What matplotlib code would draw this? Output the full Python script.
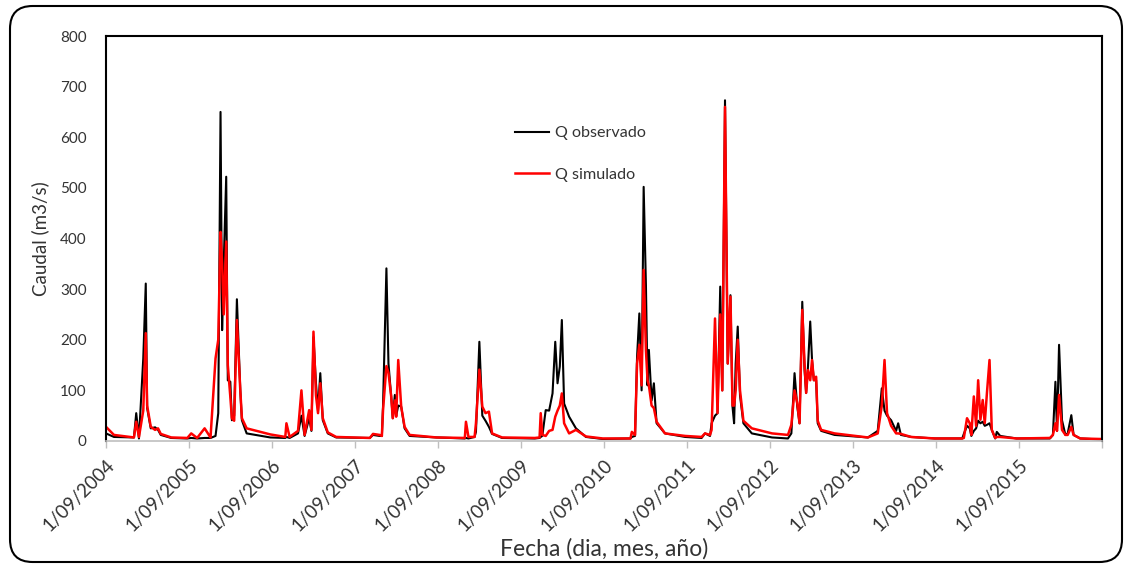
import matplotlib
matplotlib.use("Agg")
import matplotlib.pyplot as plt
from matplotlib.patches import FancyBboxPatch
import pandas as pd

######################################################################
# DATA

fechas = [
    "2004-09-01", "2004-10-06", "2005-01-02", "2005-01-12", "2005-01-24",
    "2005-02-12", "2005-02-23", "2005-03-01", "2005-03-17", "2005-04-05",
    "2005-04-18", "2005-04-30", "2005-06-15", "2005-08-25",
    "2005-09-11", "2005-10-07", "2005-11-09", "2005-12-05", "2005-12-27",
    "2006-01-08", "2006-01-18", "2006-01-25", "2006-02-01", "2006-02-12",
    "2006-02-19", "2006-03-02", "2006-03-09", "2006-03-19", "2006-03-31",
    "2006-04-15", "2006-04-22", "2006-05-13", "2006-08-25", "2006-10-30",
    "2006-11-04", "2006-11-18", "2006-12-25", "2007-01-09", "2007-01-23",
    "2007-02-12", "2007-02-22", "2007-03-03", "2007-03-14", "2007-03-23",
    "2007-04-02", "2007-04-13", "2007-05-05", "2007-06-11", "2007-11-06",
    "2007-11-20", "2007-12-19", "2007-12-29", "2008-01-03", "2008-01-18",
    "2008-01-27", "2008-02-08", "2008-02-15", "2008-02-24", "2008-03-01",
    "2008-03-10", "2008-03-23", "2008-04-07", "2008-04-29", "2008-08-25",
    "2008-12-28", "2009-01-02", "2009-01-13", "2009-02-09", "2009-02-15",
    "2009-03-02", "2009-03-15", "2009-03-29", "2009-04-13", "2009-04-27",
    "2009-06-10", "2009-11-01", "2009-11-22", "2009-11-27", "2009-12-04",
    "2009-12-19", "2010-01-03", "2010-01-18", "2010-01-30", "2010-02-09",
    "2010-02-19", "2010-02-28", "2010-03-10", "2010-04-01", "2010-05-01",
    "2010-06-14", "2010-08-27", "2010-12-27",
    "2011-01-02", "2011-01-16", "2011-01-25", "2011-02-04", "2011-02-14",
    "2011-02-23", "2011-03-05", "2011-03-12", "2011-03-18", "2011-03-30",
    "2011-04-09", "2011-04-21", "2011-05-28", "2011-08-25",
    "2011-11-05", "2011-11-20", "2011-12-12", "2011-12-19", "2012-01-03",
    "2012-01-14", "2012-01-26", "2012-02-04", "2012-02-16", "2012-02-28",
    "2012-03-11", "2012-03-20", "2012-03-27", "2012-04-03", "2012-04-12",
    "2012-04-22", "2012-05-07", "2012-06-13", "2012-09-10",
    "2012-11-19", "2012-12-04", "2012-12-18", "2012-12-30", "2013-01-09",
    "2013-01-21", "2013-01-31", "2013-02-07", "2013-02-15", "2013-02-25",
    "2013-03-05", "2013-03-13", "2013-03-23", "2013-03-30", "2013-04-14",
    "2013-06-12", "2013-11-06",
    "2013-12-19", "2014-01-06", "2014-01-18", "2014-01-29", "2014-02-16",
    "2014-03-10", "2014-03-19", "2014-03-31", "2014-05-15", "2014-08-27",
    "2014-12-26", "2015-01-02", "2015-01-16", "2015-01-28", "2015-02-04",
    "2015-02-15", "2015-02-25", "2015-03-06", "2015-03-16", "2015-03-26",
    "2015-04-04", "2015-04-14", "2015-04-25", "2015-05-05", "2015-05-20",
    "2015-05-27", "2015-06-11", "2015-08-22",
    "2016-01-16", "2016-01-29", "2016-02-09", "2016-02-16", "2016-02-25",
    "2016-03-09", "2016-03-24", "2016-04-03", "2016-04-19", "2016-04-29",
    "2016-05-28", "2016-08-22",
]

q_observado = [
    15, 8, 7, 55, 5, 163, 311, 65, 25, 27, 22, 12, 6, 5,
    6, 5, 6, 6, 10, 55, 650, 219, 350, 522, 120, 117, 41, 50, 280, 100,
    41, 15, 7, 6,
    8, 6, 15, 50, 10, 45, 20, 205, 114, 60, 134, 41, 15, 7, 6,
    12, 10, 10, 68, 341, 153, 88, 45, 91, 50, 70, 68, 25, 10, 7,
    5, 6, 5, 8, 18, 196, 50, 40, 28, 14, 6, 5, 6,
    8, 10, 61, 60, 94, 196, 114, 147, 239, 74, 48, 25, 8, 4, 5,
    8, 10, 166, 252, 100, 502, 308, 110, 180, 80, 114, 35, 15, 8,
    6, 15, 10, 35, 50, 55, 305, 100, 673, 153, 288, 68, 35, 153, 226,
    90, 35, 15, 7,
    5, 15, 134, 68, 35, 275, 140, 95, 146, 236, 160, 120, 120, 35, 20,
    12, 7,
    20, 104, 60, 50, 41, 20, 35, 12, 8, 5,
    5, 14, 30, 25, 10, 20, 25, 40, 35, 38, 30, 32, 35, 22, 5, 18, 10, 5,
    5, 12, 117, 20, 190, 41, 12, 15, 51, 12, 5, 3,
]

q_simulado = [
    28, 12, 7, 38, 8, 60, 213, 70, 28, 22, 25, 14, 7, 6,
    15, 6, 25, 7, 163, 200, 413, 350, 250, 394, 150, 88, 45, 40, 239, 100,
    45, 25, 13, 8,
    35, 8, 20, 100, 12, 61, 22, 216, 90, 55, 114, 45, 17, 8, 6,
    14, 12, 10, 60, 148, 135, 88, 45, 80, 48, 160, 68, 28, 12, 7,
    6, 38, 8, 8, 35, 141, 68, 55, 58, 15, 7, 6, 7,
    55, 12, 10, 20, 22, 48, 60, 70, 94, 35, 15, 22, 9, 5, 5,
    18, 12, 153, 190, 110, 338, 180, 120, 110, 70, 65, 38, 15, 10,
    8, 15, 12, 22, 242, 55, 250, 100, 660, 153, 285, 70, 70, 100, 200,
    100, 40, 25, 15,
    12, 32, 100, 75, 35, 259, 153, 95, 140, 120, 160, 120, 127, 40, 22,
    15, 7,
    15, 70, 160, 55, 30, 15, 15, 14, 8, 5,
    5, 6, 45, 35, 12, 88, 30, 120, 42, 81, 35, 97, 160, 22, 6, 8, 8, 5,
    6, 12, 35, 20, 91, 22, 12, 12, 28, 12, 5, 4,
]

anios_ticks = list(range(2004, 2017))
y_ticks = list(range(0, 900, 100))

######################################################################
# PLOT

plt.rcParams['font.family'] = ['Lato', 'DejaVu Sans']
TXT = '#333333'

fig = plt.figure(figsize=(11.31, 5.68), dpi=100)
ax = fig.add_axes([106 / 1131, 1 - 441 / 568, 996 / 1131, 405 / 568])

x = pd.to_datetime(fechas)
ax.plot(x, q_observado, color='black', lw=1.5, label='Q observado')
ax.plot(x, q_simulado, color='#ff0000', lw=1.8, label='Q simulado')

ticks = pd.to_datetime([f"{a}-09-01" for a in anios_ticks])
ax.set_xlim(ticks[0], ticks[-1])
ax.set_xticks(ticks)
ax.set_xticklabels([f"1/09/{a}" for a in anios_ticks[:-1]] + [""])
ax.set_ylim(0, 800)
ax.set_yticks(y_ticks)

for lab in ax.get_xticklabels():
    lab.set_rotation(45)
    lab.set_ha('right')
    lab.set_rotation_mode('anchor')

ax.tick_params(axis='x', length=5, width=1, color='#bfbfbf', pad=6,
               labelsize=13.5, labelcolor=TXT)
ax.tick_params(axis='y', length=0, pad=14, labelsize=11, labelcolor=TXT)

for side in ['left', 'right', 'top']:
    ax.spines[side].set_color('black')
    ax.spines[side].set_linewidth(1.5)
ax.spines['bottom'].set_color('#bfbfbf')
ax.spines['bottom'].set_linewidth(1.2)

ax.set_ylabel('Caudal (m3/s)', fontsize=13.5, color=TXT, labelpad=8)
fig.text(604 / 1131, 1 - 549 / 568, 'Fecha (dia, mes, año)', fontsize=16.5,
         color=TXT, ha='center', va='center')

ax.legend(loc='upper left', bbox_to_anchor=(515 / 1131, 1 - 126 / 568),
          bbox_transform=fig.transFigure, frameon=False, fontsize=11.6,
          handlelength=2.1, handletextpad=0.4, labelspacing=1.7,
          borderpad=0, borderaxespad=0, labelcolor=TXT)

# rounded border around the whole chart
marco = FancyBboxPatch((10 / 1131, 6 / 568), 1112 / 1131, 556 / 568,
                       boxstyle='round,pad=0,rounding_size=0.02',
                       transform=fig.transFigure, fill=False,
                       edgecolor='black', lw=1.5, mutation_aspect=2.0)
fig.patches.append(marco)

fig.savefig('out.png', dpi=100)
